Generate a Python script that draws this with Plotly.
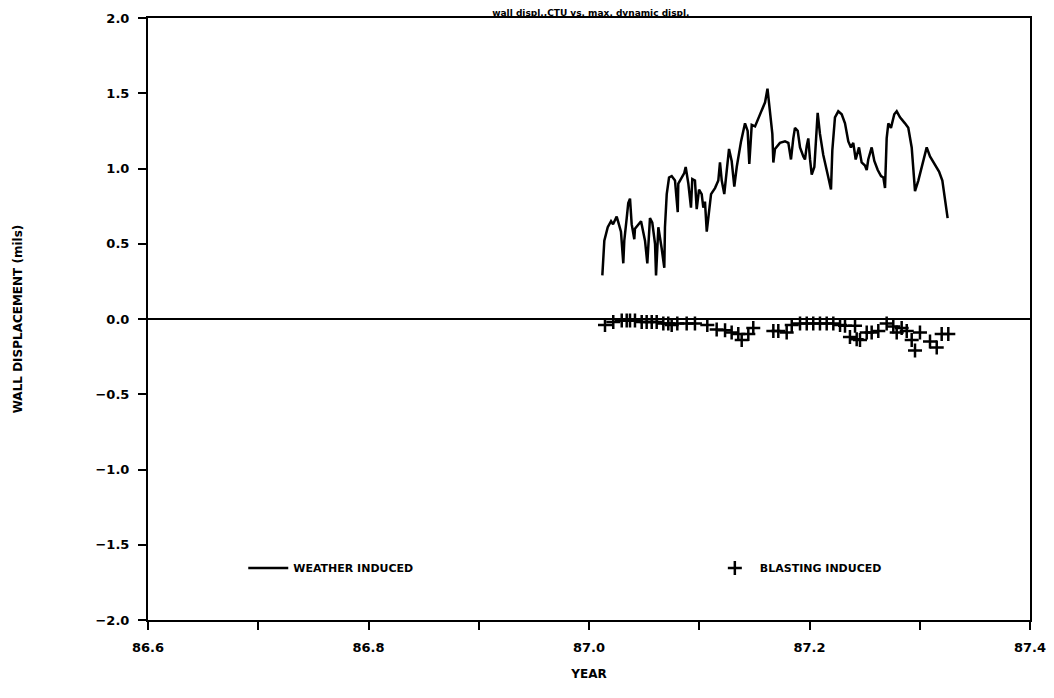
import plotly.graph_objects as go

# ---------------- data ----------------
weather_year = [
    87.0121, 87.0139, 87.0170, 87.0200, 87.0218, 87.0251, 87.0263, 87.0290, 87.0311, 87.0320,
    87.0342, 87.0356, 87.0372, 87.0387, 87.0411, 87.0417, 87.0472, 87.0508, 87.0529, 87.0553,
    87.0574, 87.0599, 87.0608, 87.0629, 87.0659, 87.0683, 87.0689, 87.0705, 87.0726, 87.0750,
    87.0780, 87.0805, 87.0810, 87.0841, 87.0864, 87.0877, 87.0901, 87.0925, 87.0937, 87.0961,
    87.0977, 87.0998, 87.1022, 87.1037, 87.1052, 87.1068, 87.1088, 87.1107, 87.1143, 87.1173,
    87.1188, 87.1204, 87.1227, 87.1249, 87.1270, 87.1294, 87.1318, 87.1340, 87.1379, 87.1415,
    87.1439, 87.1454, 87.1476, 87.1506, 87.1551, 87.1597, 87.1619, 87.1663, 87.1672, 87.1687,
    87.1732, 87.1778, 87.1808, 87.1832, 87.1853, 87.1868, 87.1893, 87.1914, 87.1944, 87.1959,
    87.1975, 87.1989, 87.2005, 87.2020, 87.2044, 87.2065, 87.2074, 87.2095, 87.2125, 87.2171,
    87.2195, 87.2207, 87.2231, 87.2261, 87.2292, 87.2322, 87.2352, 87.2376, 87.2397, 87.2419,
    87.2449, 87.2473, 87.2503, 87.2519, 87.2533, 87.2564, 87.2588, 87.2619, 87.2649, 87.2670,
    87.2685, 87.2700, 87.2715, 87.2739, 87.2769, 87.2791, 87.2821, 87.2866, 87.2896, 87.2927,
    87.2957, 87.2987, 87.3032, 87.3063, 87.3093, 87.3138, 87.3175, 87.3205, 87.3229, 87.3253,
]
weather_disp = [
    0.29, 0.52, 0.61, 0.65, 0.63, 0.68, 0.65, 0.58, 0.37, 0.52,
    0.67, 0.77, 0.80, 0.63, 0.53, 0.60, 0.65, 0.52, 0.37, 0.67,
    0.64, 0.50, 0.29, 0.61, 0.47, 0.34, 0.61, 0.83, 0.94, 0.95,
    0.92, 0.71, 0.90, 0.94, 0.97, 1.01, 0.90, 0.74, 0.93, 0.92,
    0.73, 0.86, 0.83, 0.74, 0.78, 0.58, 0.70, 0.83, 0.87, 0.92,
    1.04, 0.92, 0.83, 1.01, 1.13, 1.05, 0.88, 1.01, 1.18, 1.30,
    1.25, 1.03, 1.29, 1.28, 1.36, 1.44, 1.53, 1.23, 1.04, 1.13,
    1.17, 1.18, 1.17, 1.06, 1.20, 1.27, 1.25, 1.14, 1.08, 1.06,
    1.15, 1.20, 1.06, 0.96, 1.01, 1.27, 1.37, 1.23, 1.09, 0.94,
    0.86, 1.12, 1.34, 1.38, 1.36, 1.30, 1.18, 1.14, 1.17, 1.06,
    1.14, 1.04, 1.02, 0.99, 1.06, 1.14, 1.05, 0.99, 0.95, 0.94,
    0.87, 1.20, 1.30, 1.27, 1.36, 1.38, 1.34, 1.30, 1.27, 1.14,
    0.85, 0.92, 1.05, 1.14, 1.08, 1.03, 0.98, 0.92, 0.81, 0.67,
]

blast_year = [
    87.0145, 87.0220, 87.0297, 87.0342, 87.0372, 87.0417, 87.0478, 87.0523, 87.0569, 87.0614,
    87.0674, 87.0719, 87.0750, 87.0801, 87.0886, 87.0961, 87.1073, 87.1158, 87.1234, 87.1294,
    87.1354, 87.1385, 87.1445, 87.1490, 87.1672, 87.1717, 87.1793, 87.1839, 87.1914, 87.1975,
    87.2034, 87.2095, 87.2156, 87.2216, 87.2277, 87.2322, 87.2413, 87.2367, 87.2428, 87.2458,
    87.2519, 87.2564, 87.2624, 87.2700, 87.2760, 87.2791, 87.2836, 87.2882, 87.2927, 87.2957,
    87.3002, 87.3093, 87.3154, 87.3199, 87.3259,
]
blast_disp = [
    -0.04, -0.02, -0.01, -0.01, -0.01, -0.01, -0.02, -0.02, -0.02, -0.02,
    -0.03, -0.03, -0.04, -0.03, -0.03, -0.03, -0.04, -0.07, -0.075, -0.09,
    -0.10, -0.14, -0.10, -0.06, -0.08, -0.08, -0.09, -0.04, -0.03, -0.03,
    -0.03, -0.03, -0.03, -0.03, -0.04, -0.045, -0.045, -0.12, -0.135, -0.14,
    -0.09, -0.09, -0.08, -0.03, -0.05, -0.09, -0.06, -0.08, -0.14, -0.21,
    -0.09, -0.15, -0.19, -0.10, -0.10,
]

x_tick_vals = [86.6, 86.7, 86.8, 86.9, 87.0, 87.1, 87.2, 87.3, 87.4]
x_tick_text = ["86.6", "", "86.8", "", "87.0", "", "87.2", "", "87.4"]
y_tick_vals = [-2.0, -1.5, -1.0, -0.5, 0.0, 0.5, 1.0, 1.5, 2.0]
y_tick_text = ["\u22122.0", "\u22121.5", "\u22121.0", "\u22120.5", "0.0", "0.5", "1.0", "1.5", "2.0"]

title_text = "wall displ.,CTU vs. max. dynamic displ."
x_title = "YEAR"
y_title = "WALL DISPLACEMENT (mils)"
series_names = ["WEATHER INDUCED", "BLASTING INDUCED"]

# ---------------- figure ----------------
FONT = "DejaVu Sans"

fig = go.Figure()
fig.add_trace(go.Scatter(
    x=weather_year, y=weather_disp, mode="lines", name=series_names[0],
    line=dict(color="black", width=2.5), legend="legend",
))
fig.add_trace(go.Scatter(
    x=blast_year, y=blast_disp, mode="markers", name=series_names[1],
    marker=dict(symbol="cross-thin", size=10, color="black",
                line=dict(color="black", width=2.5)),
    legend="legend2",
))

axis_common = dict(
    showline=True, linecolor="black", linewidth=2, mirror=True,
    ticks="outside", tickcolor="black", tickwidth=2, ticklen=8,
    showgrid=False, automargin=False,
    tickfont=dict(family=FONT, size=13, color="black", weight="bold"),
)

fig.update_xaxes(
    range=[86.6, 87.4], tickvals=x_tick_vals, ticktext=x_tick_text,
    zeroline=False, ticklabelstandoff=6,
    title=dict(text=x_title, font=dict(family=FONT, size=12, color="black", weight="bold"),
               standoff=16),
    **axis_common,
)
fig.update_yaxes(
    range=[-2.0, 2.0], tickvals=y_tick_vals, ticktext=y_tick_text,
    zeroline=True, zerolinecolor="black", zerolinewidth=2, ticklabelstandoff=6,
    title=dict(text=y_title, font=dict(family=FONT, size=12, color="black", weight="bold"),
               standoff=70),
    **axis_common,
)

legend_font = dict(family=FONT, size=11, color="black", weight="bold")
fig.update_layout(
    width=1054, height=698,
    margin=dict(l=140, r=32, t=10, b=86),
    paper_bgcolor="white", plot_bgcolor="white",
    title=dict(text=title_text, x=0.553, xanchor="center", y=0.9928, yanchor="middle",
               font=dict(family=FONT, size=9, color="black", weight="bold")),
    legend=dict(x=0.108, y=0.0864, xanchor="left", yanchor="middle",
                bgcolor="rgba(0,0,0,0)", font=legend_font, itemwidth=40),
    legend2=dict(x=0.637, y=0.0864, xanchor="left", yanchor="middle",
                 bgcolor="rgba(0,0,0,0)", font=legend_font, itemwidth=40),
    showlegend=True,
)

fig.write_html("out.html")
